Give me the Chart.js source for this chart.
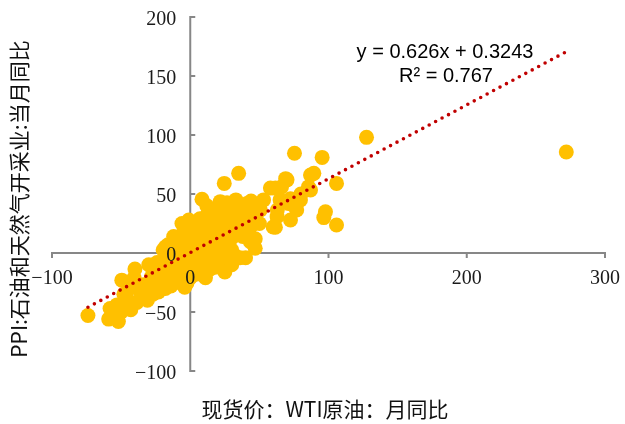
<!DOCTYPE html>
<html><head><meta charset="utf-8">
<script src="https://cdn.jsdelivr.net/npm/chart.js@4/dist/chart.umd.min.js"></script>
<style>html,body{margin:0;padding:0;background:#fff}#wrap{width:625px;height:424px}</style>
</head><body><div id="wrap"><canvas id="c" width="625" height="424"></canvas></div>
<script>
// WTI crude spot price, month YoY (%)
const xValues = [
  -74,-59,-56,-52,-53,-49.5,-46,-43,-40,-40.6,-38.6,-36,-31,-29,-23,-22,-48,-44,-33,-27,-25,-20,-18,-34,-50,-58,-47,
  -19.6,-16,-12,-18,-9.6,-7,-2.4,0,-5,2,-3.6,0,7,-9.6,-14,-10,-5,0,5,3,8,10,-3,-8,4,12,14.5,9.7,15,-15,-12,-4,11,25,40,30,18,-17,-6,2,6,-1,-7,-13,
  8.5,16.9,12,29,34,26.6,19,14.5,9.7,4.8,21.7,31,30,21.7,43.5,47,36,26.6,21.7,41,24.6,35,47,43.5,50.7,41,36,45.7,53,38,25,33,18,10,28,38,15,50,20,5,14,30,24,33,12,
  58,66,69,61.6,70,75.4,95.4,89.4,87,85.5,87,105.8,79.7,72.5,71,72.5,60,61.6,62.8,77,63,97.8,96.6,105.8,127.5,80,75,65,
  272,
  -15,-10,-5,0,5,10,3,-2,8,12,18,22,16,-8,-3,4,14,20,26,32,-18,-22,-25,28,35,40,6,-12,-1,-18,-6,23,44,47,-24,-22,-18,-28,-30,-14
];
// PPI oil & gas extraction, current month YoY (%)
const yValues = [
  -53,-56,-53,-58,-44,-23,-38,-48,-13.5,-21,-42,-33,-40,-28.5,-33,-23,-35,-30,-36,-35,-25,-18,-28,-27,-50,-47,-43,
  2.5,7,-6,-8.5,-14.4,-20,-25.6,-21,17,22,19.5,22,29,-3,-12,5,0,5,-5,-15,-12,-2,10,12,12,5,-6,-8.5,10,-18,-25,-29,-21,-16,-4,-10,-12,-2,-8,-8,2,-12,4,-16,
  45.5,36,32,32,29,22,22,16.7,11,6.8,11,13.8,2.5,0,9.6,4,-4,42.6,43.5,42,59,67.5,28,22,36.4,39,30.8,36.4,45,20,28,38,27,20,8,14,-2,25,5,16,25,20,36,45,40,
  55,56,63,55,62,84.5,81,67.5,66,56,53.4,59,45,46,42,28,22,21.8,30.8,36.4,36.4,35,30,23.7,98,50,40,45,
  85.6,
  0,-8,-5,-5,5,8,0,3,18,14,18,25,6,-25,-18,-18,-14,-8,-4,-2,-20,-12,-16,16,24,30,24,14,28,5,25,42,44,12,-8,-15,-30,-20,-10,-28
];
const xTicks = [-100, 0, 100, 200, 300];
const yTicks = [-100, -50, 0, 50, 100, 150, 200];
const slope = 0.626, intercept = 0.3243;
const xTitle = '现货价：WTI原油：月同比';
const yTitle = 'PPI:石油和天然气开采业:当月同比';
const eqLine1 = 'y = 0.626x + 0.3243';
const eqLine2 = 'R² = 0.767';

const points = xValues.map((v, i) => ({x: v, y: yValues[i]}));
const xMin = Math.min(...xValues), xMax = Math.max(...xValues);
const trend = [{x: xMin, y: slope * xMin + intercept}, {x: xMax, y: slope * xMax + intercept}];

const fmt = v => String(v).replace('-', '\u2212');
const AXIS = '#878787';
const TICKFONT = '20px "Liberation Serif", "Times New Roman", serif';

const decor = {
  id: 'decor',
  beforeDatasetsDraw(chart) {
    const {ctx, chartArea: a, scales: {x, y}} = chart;
    const x0 = x.getPixelForValue(0), y0 = y.getPixelForValue(0);
    ctx.save();
    ctx.strokeStyle = AXIS; ctx.lineWidth = 2; ctx.lineCap = 'butt';
    ctx.beginPath();
    ctx.moveTo(a.left, y0); ctx.lineTo(a.right, y0);
    ctx.moveTo(x0, a.top); ctx.lineTo(x0, a.bottom);
    x.ticks.forEach(t => { const p = x.getPixelForValue(t.value); ctx.moveTo(p, y0 - 1); ctx.lineTo(p, y0 + 5); });
    y.ticks.forEach(t => { const p = y.getPixelForValue(t.value); ctx.moveTo(x0 - 1, p); ctx.lineTo(x0 + 5, p); });
    ctx.stroke();
    ctx.restore();
  },
  afterDraw(chart) {
    const {ctx, scales: {x, y}} = chart;
    const x0 = x.getPixelForValue(0), y0 = y.getPixelForValue(0);
    ctx.save();
    ctx.fillStyle = '#1a1a1a';
    ctx.font = TICKFONT;
    ctx.textBaseline = 'alphabetic';
    ctx.textAlign = 'center';
    x.ticks.forEach(t => ctx.fillText(fmt(t.value), x.getPixelForValue(t.value), y0 + 31));
    ctx.textAlign = 'right';
    y.ticks.forEach(t => ctx.fillText(fmt(t.value), x0 - 14, y.getPixelForValue(t.value) + 7.5));
    ctx.restore();

    ctx.save();
    ctx.fillStyle = '#111';
    ctx.textAlign = 'center'; ctx.textBaseline = 'middle';
    ctx.font = '21px "Noto Sans CJK SC", sans-serif';
    ctx.fillText(xTitle, 325, 409);
    ctx.translate(19, 199); ctx.rotate(-Math.PI / 2);
    ctx.fillText(yTitle, 0, 0);
    ctx.restore();

    ctx.save();
    ctx.fillStyle = '#000';
    ctx.textAlign = 'center'; ctx.textBaseline = 'middle';
    ctx.font = '20px "Liberation Sans", Arial, sans-serif';
    ctx.fillText(eqLine1, 445, 52);
    ctx.fillText(eqLine2, 446, 76);
    ctx.restore();
  }
};

new Chart(document.getElementById('c'), {
  type: 'scatter',
  data: {
    datasets: [
      {
        type: 'line', data: trend, order: 0,
        borderColor: '#C00000', borderWidth: 3.6, borderDash: [0, 7.3], borderCapStyle: 'round',
        pointRadius: 0, fill: false, tension: 0
      },
      {
        data: points, order: 1,
        backgroundColor: '#FFC000', borderColor: '#FFC000', borderWidth: 0,
        pointRadius: 7.5, pointHoverRadius: 7.5
      }
    ]
  },
  plugins: [decor],
  options: {
    responsive: false, animation: false,
    layout: {padding: {left: 52, right: 20, top: 17, bottom: 53}},
    plugins: {legend: {display: false}, tooltip: {enabled: false}},
    scales: {
      x: {
        type: 'linear', min: -100, max: 300, position: {y: 0},
        afterBuildTicks: s => { s.ticks = xTicks.map(v => ({value: v})); },
        afterFit: s => { s.paddingLeft = 0; s.paddingRight = 0; s.paddingTop = 0; s.paddingBottom = 0; },
        grid: {display: false, drawTicks: false}, border: {display: false},
        ticks: {display: false}
      },
      y: {
        type: 'linear', min: -100, max: 200, position: {x: 0},
        afterBuildTicks: s => { s.ticks = yTicks.map(v => ({value: v})); },
        afterFit: s => { s.paddingLeft = 0; s.paddingRight = 0; s.paddingTop = 0; s.paddingBottom = 0; },
        grid: {display: false, drawTicks: false}, border: {display: false},
        ticks: {display: false}
      }
    }
  }
});
</script></body></html>
